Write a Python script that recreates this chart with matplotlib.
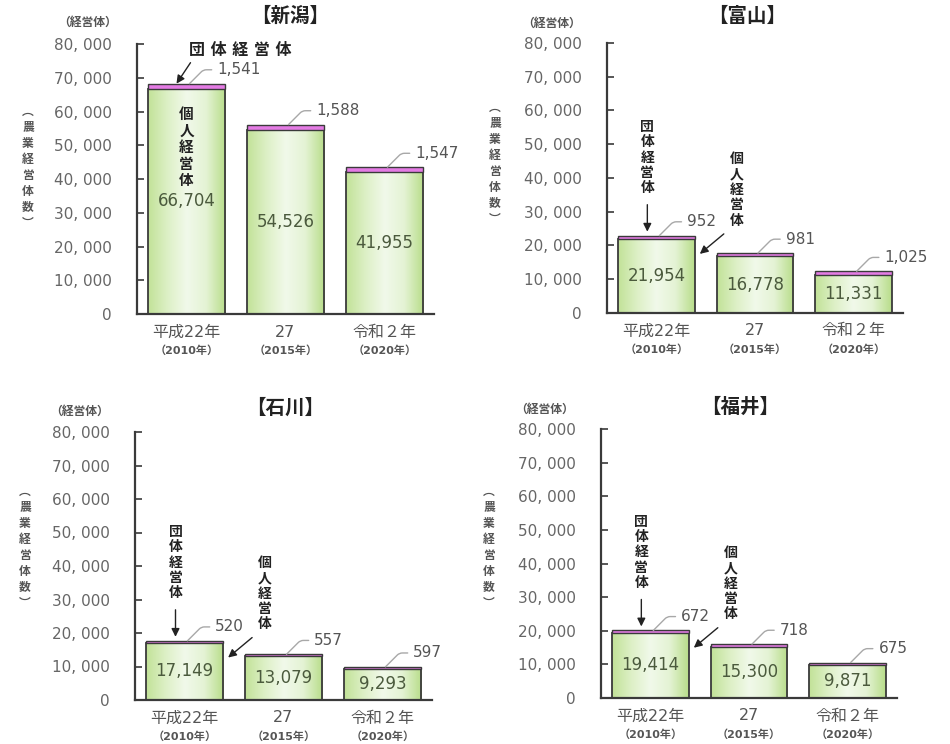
import numpy as np
import matplotlib.pyplot as plt
import matplotlib.transforms as mtransforms
from matplotlib.colors import LinearSegmentedColormap
from matplotlib.patches import Rectangle

plt.rcParams['font.family'] = ['DejaVu Sans', 'Noto Sans CJK JP']

# ==== DATI ====
years = ["平成22年", "27", "令和２年"]
years_ad = ["（2010年）", "（2015年）", "（2020年）"]

niigata_kojin = [66704, 54526, 41955]
niigata_dantai = [1541, 1588, 1547]
toyama_kojin = [21954, 16778, 11331]
toyama_dantai = [952, 981, 1025]
ishikawa_kojin = [17149, 13079, 9293]
ishikawa_dantai = [520, 557, 597]
fukui_kojin = [19414, 15300, 9871]
fukui_dantai = [672, 718, 675]

panels = [
    ("新潟", niigata_kojin, niigata_dantai),
    ("富山", toyama_kojin, toyama_dantai),
    ("石川", ishikawa_kojin, ishikawa_dantai),
    ("福井", fukui_kojin, fukui_dantai),
]

# ==== LAYOUT (pixel) ====
W, H = 950, 744
boxes = [(137, 44, 434, 314), (607, 43, 903, 313), (135, 432, 432, 700), (601, 429, 897, 698)]
title_pos = [(290, 16), (747, 16), (285, 408), (740, 407)]
unit_pos = [(88, 22), (552, 23), (80, 411), (545, 409)]
ylab_pos = [(28, 167), (495, 163), (25, 547), (489, 547)]

TEXT = '#555555'
EDGE = '#3a3a3a'
DARK = '#222222'
green = LinearSegmentedColormap.from_list(
    "g", ["#c2e298", "#ddf0c6", "#f1f9ea", "#e4f3d4", "#b8dd8a"])
grad = np.linspace(0, 1, 200).reshape(1, -1)

fig = plt.figure(figsize=(W / 100, H / 100), dpi=100)


def px(ax, dx, dy, base=None):
    # trasformazione con offset in pixel
    return mtransforms.offset_copy(base if base is not None else ax.transData,
                                   fig=fig, x=dx, y=dy, units='dots')


def arrow(ax, xy, head, tail):
    ax.annotate("", xy=xy, xycoords=px(ax, *head), xytext=xy, textcoords=px(ax, *tail),
                arrowprops=dict(arrowstyle='-|>', color=DARK, lw=1.0,
                                mutation_scale=12, shrinkA=0, shrinkB=0))


for i, (name, kojin, dantai) in enumerate(panels):
    l, t, r, b = boxes[i]
    ax = fig.add_axes([l / W, 1 - b / H, (r - l) / W, (b - t) / H])
    x = np.arange(len(kojin))
    w = 0.78

    for xi, k, d in zip(x, kojin, dantai):
        ax.imshow(grad, cmap=green, extent=[xi - w / 2, xi + w / 2, 0, k],
                  aspect='auto', interpolation='bicubic', zorder=2)
        ax.add_patch(Rectangle((xi - w / 2, 0), w, k, facecolor='none',
                               edgecolor=EDGE, lw=1.3, zorder=3))
        ax.bar(xi, d, w, bottom=k, color='#e47be4', edgecolor=EDGE, lw=1.0, zorder=3)
        ax.text(xi, k / 2, f"{k:,}", ha='center', va='center', fontsize=12,
                color='#4b5a3d', zorder=4)
        ax.annotate(f"{d:,}", xy=(xi + 0.03, k + d), xytext=(20, 10),
                    textcoords='offset points', ha='left', va='center',
                    fontsize=11, color=TEXT,
                    arrowprops=dict(arrowstyle='-', color='#a8a8a8', lw=1.0,
                                    shrinkA=2, shrinkB=0, relpos=(0, 0.5),
                                    connectionstyle='angle,angleA=0,angleB=45,rad=3'))

    ax.set_xlim(-0.5, 2.5)
    ax.set_ylim(0, 80000)
    ax.set_yticks(range(0, 80001, 10000))
    ax.set_yticklabels([f"{v:,}".replace(",", ", ") for v in range(0, 80001, 10000)])
    ax.tick_params(axis='y', direction='in', length=5, width=1.2, color=EDGE,
                   pad=18, labelsize=11, labelcolor='#666666')
    ax.set_xticks([])
    for s in ['top', 'right']:
        ax.spines[s].set_visible(False)
    for s in ['left', 'bottom']:
        ax.spines[s].set_linewidth(1.6)
        ax.spines[s].set_color(EDGE)

    # etichette asse x su due righe
    for xi, y1, y2 in zip(x, years, years_ad):
        ax.text(xi, 0, y1, transform=px(ax, 0, -18, ax.get_xaxis_transform()),
                ha='center', va='center', fontsize=11.5, color=TEXT)
        ax.text(xi, 0, y2, transform=px(ax, 0, -37, ax.get_xaxis_transform()),
                ha='center', va='center', fontsize=8, color=TEXT, fontweight='bold')

    fig.text(title_pos[i][0] / W, 1 - title_pos[i][1] / H, f"【{name}】",
             ha='center', va='center', fontsize=14, fontweight='bold', color=DARK)
    fig.text(unit_pos[i][0] / W, 1 - unit_pos[i][1] / H, "（経営体）",
             ha='center', va='center', fontsize=8.5, fontweight='bold', color=TEXT)
    fig.text(ylab_pos[i][0] / W, 1 - ylab_pos[i][1] / H, "︵\n農\n業\n経\n営\n体\n数\n︶",
             ha='center', va='center', fontsize=8.5, fontweight='bold', color=TEXT,
             linespacing=1.3)

    top0 = kojin[0] + dantai[0]
    if i == 0:
        # 新潟: etichette dentro/sopra la prima barra
        ax.text(0, top0, "団 体 経 営 体", transform=px(ax, 54, 33), ha='center',
                va='center', fontsize=11.5, fontweight='bold', color=DARK)
        arrow(ax, (0, top0), (-10, 0), (4, 21))
        ax.text(0, top0, "個\n人\n経\n営\n体", transform=px(ax, 0, -64), ha='center',
                va='center', fontsize=10.5, fontweight='bold', color=DARK,
                linespacing=1.12, zorder=4)
    else:
        ax.text(0, top0, "団\n体\n経\n営\n体", transform=px(ax, -9, 78), ha='center',
                va='center', fontsize=10, fontweight='bold', color=DARK,
                linespacing=1.12)
        arrow(ax, (0, top0), (-9, 4), (-9, 31))
        xr = w / 2
        ax.text(xr, kojin[0], "個\n人\n経\n営\n体", transform=px(ax, 42, 49),
                ha='center', va='center', fontsize=10, fontweight='bold',
                color=DARK, linespacing=1.12)
        arrow(ax, (xr, kojin[0]), (5, -15), (29, 5))

fig.savefig("out.png", dpi=100, facecolor='white')
